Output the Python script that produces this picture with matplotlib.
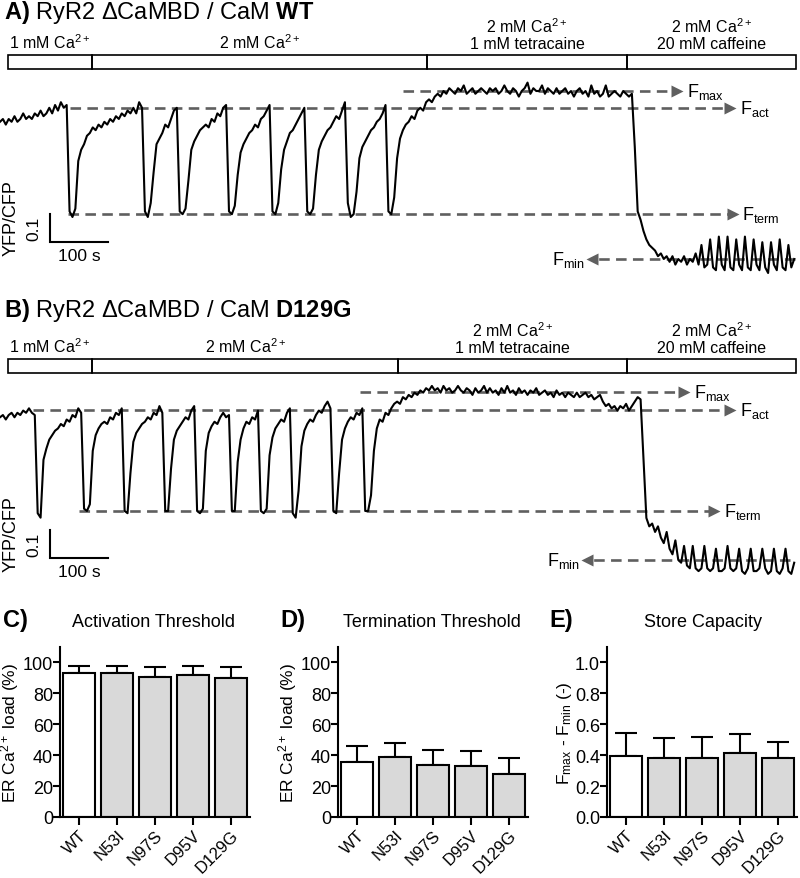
import numpy as np
import matplotlib.pyplot as plt

plt.rcParams['font.family'] = ['Liberation Sans', 'DejaVu Sans']
plt.rcParams['mathtext.fontset'] = 'custom'
plt.rcParams['mathtext.rm'] = 'Liberation Sans'
plt.rcParams['mathtext.it'] = 'Liberation Sans:italic'
plt.rcParams['mathtext.bf'] = 'Liberation Sans:bold'

# YFP/CFP ratio traces, one sample every 5 s
dt = 5.0
trace_wt = [
    1.49, 1.50, 1.48, 1.50, 1.49, 1.51, 1.49, 1.50, 1.52, 1.50,
    1.51, 1.50, 1.52, 1.51, 1.53, 1.51, 1.52, 1.54, 1.52, 1.55,
    1.53, 1.56, 1.54, 1.55, 1.17, 1.15, 1.18, 1.35, 1.39, 1.41,
    1.44, 1.45, 1.47, 1.46, 1.48, 1.47, 1.49, 1.48, 1.50, 1.49,
    1.51, 1.50, 1.52, 1.51, 1.53, 1.52, 1.54, 1.52, 1.56, 1.54,
    1.17, 1.15, 1.20, 1.31, 1.41, 1.43, 1.45, 1.48, 1.47, 1.50,
    1.53, 1.54, 1.17, 1.16, 1.18, 1.28, 1.39, 1.42, 1.44, 1.46,
    1.47, 1.48, 1.47, 1.50, 1.49, 1.52, 1.51, 1.54, 1.55, 1.17,
    1.16, 1.19, 1.30, 1.38, 1.41, 1.43, 1.45, 1.46, 1.48, 1.47,
    1.50, 1.51, 1.53, 1.55, 1.17, 1.16, 1.20, 1.32, 1.39, 1.42,
    1.45, 1.46, 1.48, 1.50, 1.52, 1.54, 1.17, 1.16, 1.18, 1.30,
    1.39, 1.42, 1.44, 1.46, 1.47, 1.49, 1.51, 1.50, 1.53, 1.56,
    1.20, 1.15, 1.16, 1.24, 1.36, 1.40, 1.42, 1.44, 1.46, 1.47,
    1.49, 1.50, 1.52, 1.55, 1.17, 1.16, 1.22, 1.36, 1.43, 1.46,
    1.48, 1.49, 1.51, 1.50, 1.53, 1.54, 1.53, 1.56, 1.57, 1.56,
    1.58, 1.59, 1.58, 1.60, 1.59, 1.61, 1.60, 1.59, 1.61, 1.60,
    1.62, 1.59, 1.60, 1.61, 1.59, 1.60, 1.61, 1.60, 1.59, 1.61,
    1.60, 1.61, 1.59, 1.60, 1.62, 1.60, 1.59, 1.61, 1.60, 1.58,
    1.60, 1.61, 1.63, 1.59, 1.61, 1.60, 1.60, 1.62, 1.59, 1.61,
    1.60, 1.59, 1.61, 1.59, 1.60, 1.61, 1.59, 1.60, 1.58, 1.60,
    1.61, 1.59, 1.60, 1.58, 1.62, 1.59, 1.60, 1.58, 1.59, 1.62,
    1.58, 1.59, 1.60, 1.59, 1.58, 1.60, 1.59, 1.58, 1.59, 1.40,
    1.17, 1.14, 1.10, 1.07, 1.05, 1.04, 1.03, 1.01, 1.02, 1.00,
    1.01, 0.99, 1.01, 0.98, 1.00, 0.99, 1.01, 0.98, 1.00, 0.99,
    1.02, 0.98, 1.05, 0.97, 0.98, 1.07, 0.97, 0.96, 1.08, 0.98,
    0.96, 1.08, 0.97, 0.96, 1.07, 0.98, 0.96, 1.08, 0.97, 0.96,
    1.07, 0.98, 0.96, 1.06, 0.97, 0.95, 1.06, 0.98, 0.96, 1.07,
    0.97, 0.96, 1.05, 0.97, 1.00,
]
trace_d129g = [
    1.510, 1.518, 1.502, 1.518, 1.526, 1.510, 1.526, 1.518, 1.534, 1.526,
    1.542, 1.526, 1.518, 1.167, 1.151, 1.358, 1.398, 1.430, 1.446, 1.462,
    1.470, 1.486, 1.478, 1.502, 1.494, 1.518, 1.510, 1.542, 1.526, 1.183,
    1.175, 1.199, 1.390, 1.446, 1.470, 1.486, 1.494, 1.486, 1.510, 1.502,
    1.526, 1.518, 1.542, 1.175, 1.167, 1.310, 1.422, 1.454, 1.470, 1.486,
    1.494, 1.510, 1.502, 1.526, 1.518, 1.550, 1.526, 1.175, 1.175, 1.326,
    1.430, 1.462, 1.478, 1.494, 1.510, 1.502, 1.534, 1.550, 1.175, 1.167,
    1.183, 1.390, 1.454, 1.478, 1.494, 1.486, 1.510, 1.526, 1.510, 1.518,
    1.175, 1.175, 1.350, 1.430, 1.470, 1.494, 1.486, 1.510, 1.502, 1.534,
    1.175, 1.167, 1.183, 1.374, 1.438, 1.470, 1.486, 1.502, 1.494, 1.526,
    1.542, 1.167, 1.151, 1.247, 1.406, 1.462, 1.486, 1.502, 1.494, 1.518,
    1.534, 1.526, 1.550, 1.566, 1.542, 1.175, 1.167, 1.310, 1.430, 1.470,
    1.494, 1.510, 1.502, 1.526, 1.518, 1.542, 1.175, 1.175, 1.231, 1.390,
    1.470, 1.502, 1.494, 1.526, 1.518, 1.542, 1.558, 1.566, 1.558, 1.582,
    1.574, 1.590, 1.582, 1.598, 1.590, 1.606, 1.598, 1.614, 1.606, 1.622,
    1.606, 1.614, 1.598, 1.622, 1.606, 1.614, 1.598, 1.606, 1.622, 1.606,
    1.598, 1.614, 1.606, 1.590, 1.614, 1.598, 1.606, 1.622, 1.598, 1.614,
    1.598, 1.606, 1.590, 1.614, 1.598, 1.622, 1.598, 1.606, 1.590, 1.614,
    1.598, 1.606, 1.590, 1.606, 1.598, 1.614, 1.590, 1.598, 1.606, 1.590,
    1.598, 1.582, 1.606, 1.590, 1.598, 1.582, 1.598, 1.590, 1.582, 1.598,
    1.582, 1.590, 1.598, 1.582, 1.590, 1.574, 1.582, 1.590, 1.566, 1.550,
    1.558, 1.542, 1.550, 1.534, 1.550, 1.542, 1.558, 1.534, 1.550, 1.566,
    1.582, 1.574, 1.360, 1.150, 1.120, 1.130, 1.100, 1.120, 1.080, 1.060,
    1.100, 1.040, 1.020, 1.070, 1.000, 0.990, 1.050, 0.980, 0.970, 1.050,
    0.970, 0.960, 0.970, 1.050, 0.970, 0.960, 0.970, 1.040, 0.960, 0.960,
    0.970, 1.050, 0.970, 0.960, 0.970, 1.040, 0.960, 0.950, 0.970, 1.040,
    0.960, 0.960, 0.970, 1.040, 0.970, 0.950, 0.960, 1.040, 0.960, 0.950,
    0.970, 1.040, 0.960, 0.950, 0.990,
]

# solution changes (s) and labels
switch_wt = [7, 153, 735, 1083, 1377]
switch_d129g = [7, 153, 685, 1083, 1377]
conditions = ['1 mM Ca$^{2+}$', '2 mM Ca$^{2+}$',
              '2 mM Ca$^{2+}$\n1 mM tetracaine', '2 mM Ca$^{2+}$\n20 mM caffeine']

# reference levels: (ratio, start s, end s)
levels_wt = {'max': (1.60, 695, 1168), 'act': (1.54, 121, 1259),
             'term': (1.16, 117, 1264), 'min': (1.00, 1371, 1021)}
levels_d129g = {'max': (1.60, 621, 1180), 'act': (1.535, 57, 1259),
                'term': (1.175, 136, 1232), 'min': (1.00, 1363, 1012)}

# summary bars
groups = ['WT', 'N53I', 'N97S', 'D95V', 'D129G']
act_mean = [93.0, 93.0, 90.8, 91.9, 90.2]
act_err = [4.4, 4.4, 6.0, 6.0, 6.8]
term_mean = [35.9, 39.1, 33.8, 33.3, 27.8]
term_err = [10.0, 8.5, 9.4, 9.4, 10.2]
cap_mean = [0.395, 0.380, 0.380, 0.412, 0.380]
cap_err = [0.146, 0.133, 0.135, 0.122, 0.107]

W, H = 800, 879
GRAY = '#5f5f5f'


def box(x0, y0, x1, y1):
    return [x0 / W, 1 - y1 / H, (x1 - x0) / W, (y1 - y0) / H]


fig = plt.figure(figsize=(W / 100, H / 100), dpi=100)


def condition_bar(rect, switches):
    ax = fig.add_axes(rect)
    ax.set_xlim(0, 1380)
    ax.set_ylim(0, 1)
    ax.axis('off')
    for i, lab in enumerate(conditions):
        a, b = switches[i], switches[i + 1]
        ax.add_patch(plt.Rectangle((a, 0), b - a, 1, fill=False, ec='black',
                                   lw=1.2, clip_on=False))
        ax.annotate(lab, ((a + b) / 2, 1), xytext=(0, 3), textcoords='offset points',
                    ha='center', va='bottom', fontsize=11.5, linespacing=1.1)


def trace(rect, ylim, t_vals, r_vals, levels, sb_r0):
    ax = fig.add_axes(rect)
    ax.set_xlim(0, 1380)
    ax.set_ylim(*ylim)
    ax.axis('off')
    ax.plot(t_vals, r_vals, color='black', lw=1.5, zorder=3, clip_on=False)
    for key, (y, t0, t1) in levels.items():
        ax.plot([t0, t1], [y, y], color=GRAY, lw=1.9, ls=(0, (4, 2.4)), zorder=2)
        right = t1 > t0
        ax.plot([t1], [y], marker='>' if right else '<', ms=8, color=GRAY,
                mec='none', zorder=2)
        ax.annotate('F$_{\\mathrm{%s}}$' % key, (t1, y),
                    xytext=(7 if right else -5, 0), textcoords='offset points',
                    ha='left' if right else 'right', va='center', fontsize=13)
    # scale bar: 100 s, 0.1 ratio
    t0 = 86
    ax.plot([t0, t0, t0 + 100], [sb_r0 + 0.1, sb_r0, sb_r0], color='black',
            lw=1.5, solid_joinstyle='miter')
    ax.annotate('0.1', (t0, sb_r0 + 0.05), xytext=(-6, 0), textcoords='offset points',
                rotation=90, ha='right', va='center', fontsize=12.5)
    ax.annotate('YFP/CFP', (t0, sb_r0 + 0.05), xytext=(-22, 8),
                textcoords='offset points', rotation=90, ha='right', va='center',
                fontsize=13)
    ax.annotate('100 s', (t0 + 50, sb_r0), xytext=(0, -4), textcoords='offset points',
                ha='center', va='top', fontsize=12.5)


# panel A
fig.text(4 / W, 1 - 13 / H, r'$\mathbf{A)}$ RyR2 ΔCaMBD / CaM $\mathbf{WT}$',
         fontsize=17, va='center')
condition_bar(box(4, 56, 798, 70), switch_wt)
trace(box(0, 69.6, 800, 279.6), (0.93, 1.68), np.arange(len(trace_wt)) * dt,
      trace_wt, levels_wt, 1.06)

# panel B
fig.text(4 / W, 1 - 311 / H, r'$\mathbf{B)}$ RyR2 ΔCaMBD / CaM $\mathbf{D129G}$',
         fontsize=17, va='center')
condition_bar(box(4, 360, 798, 374), switch_d129g)
trace(box(0, 378, 800, 590), (0.896, 1.654), np.arange(len(trace_d129g)) * dt,
      trace_d129g, levels_d129g, 1.007)


def bar_panel(rect, letter, title, means, errs, ylim, yticks, ylabel, fmt, lx, tx):
    ax = fig.add_axes(rect)
    x = np.arange(len(groups))
    colors = ['white'] + ['#d9d9d9'] * (len(groups) - 1)
    ax.bar(x, means, width=0.82, color=colors, edgecolor='black', lw=1.5, zorder=2)
    ax.errorbar(x, means, yerr=[np.zeros(len(groups)), errs], fmt='none',
                ecolor='black', elinewidth=1.5, capsize=8, capthick=1.5, zorder=1)
    ax.set_xlim(-0.5, 4.5)
    ax.set_ylim(*ylim)
    ax.set_yticks(yticks)
    ax.set_yticklabels([fmt % v for v in yticks], fontsize=13)
    ax.set_xticks(x)
    ax.set_xticklabels(groups, rotation=45, ha='right', rotation_mode='anchor',
                       fontsize=12)
    for s in ['top', 'right']:
        ax.spines[s].set_visible(False)
    for s in ['left', 'bottom']:
        ax.spines[s].set_linewidth(1.5)
    ax.tick_params(axis='y', length=5, width=1.5, pad=0)
    ax.tick_params(axis='x', length=6, width=1.5, pad=1)
    ax.set_ylabel(ylabel, fontsize=12.5, labelpad=1)
    fig.text(lx / W, 1 - 621 / H, letter, fontsize=17, fontweight='bold', va='center')
    fig.text(tx / W, 1 - 623 / H, title, fontsize=13, ha='center', va='center')


bar_panel(box(60, 648, 250, 818), 'C)', 'Activation Threshold', act_mean, act_err,
          (0, 110), [0, 20, 40, 60, 80, 100], 'ER Ca$^{2+}$ load (%)', '%d', 3, 154)
bar_panel(box(338, 648, 528, 818), 'D)', 'Termination Threshold', term_mean, term_err,
          (0, 110), [0, 20, 40, 60, 80, 100], 'ER Ca$^{2+}$ load (%)', '%d', 280, 432)
bar_panel(box(607, 648, 797, 818), 'E)', 'Store Capacity', cap_mean, cap_err,
          (0, 1.1), [0.0, 0.2, 0.4, 0.6, 0.8, 1.0],
          'F$_{\\mathrm{max}}$ - F$_{\\mathrm{min}}$ (-)', '%.1f', 549, 703)

fig.savefig('out.png', dpi=100)
